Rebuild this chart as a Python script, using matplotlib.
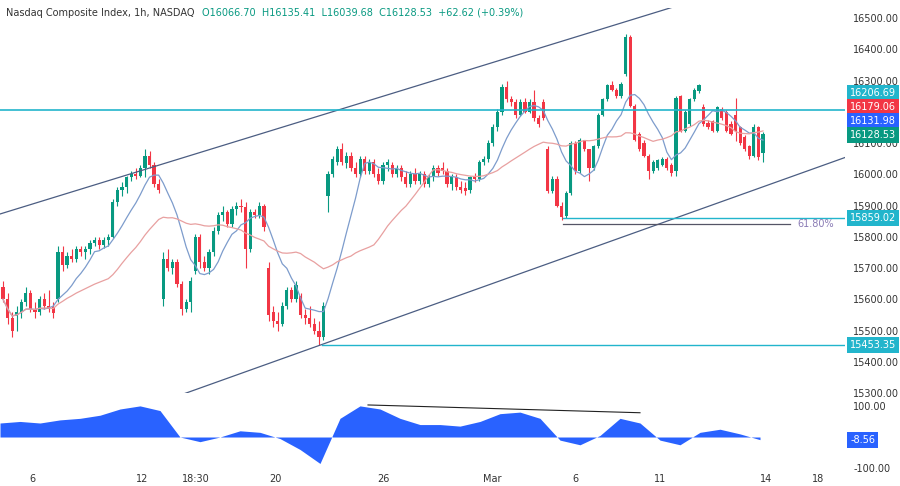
import matplotlib.pyplot as plt
import numpy as np
import pandas as pd

opens = [15640, 15600, 15540, 15545, 15560, 15590, 15620, 15570, 15560, 15600, 15580, 15575,
         15600, 15750, 15710, 15740, 15730, 15760, 15750, 15760, 15780, 15790, 15775, 15790,
         15800, 15910, 15950, 15960, 15990, 16000, 15995, 16020, 16060, 16030, 15970,
         15600, 15730, 15700, 15720, 15650, 15570, 15590, 15690, 15800, 15720, 15700, 15750,
         15820, 15870, 15880, 15840, 15890, 15900, 15895, 15760, 15880, 15870, 15900,
         15700, 15560, 15530, 15520, 15580, 15630, 15600, 15610, 15550, 15540, 15520, 15500, 15480,
         15930, 16000, 16040, 16080, 16035, 16060, 16020, 16000, 16050, 16010, 16040, 16000,
         15980, 16030, 16030, 16000, 16020, 15990, 15970, 16000, 15980, 16000, 15970, 15990,
         16020, 16020, 16010, 15970, 15990, 15960, 15955, 15950, 15990, 15985, 16040, 16050,
         16100, 16150, 16200, 16280, 16240, 16230, 16190, 16230, 16200, 16230, 16180,
         16230, 16080, 15945, 15985, 15900, 15865, 15940, 16100, 16010, 16110,
         16080, 16020, 16090, 16190, 16240, 16285, 16270, 16250, 16320, 16440,
         16220, 16130, 16100, 16060, 16010, 16020, 16030, 16050, 16030, 16010,
         16250, 16140, 16160, 16240, 16265, 16215, 16165, 16170, 16140, 16210,
         16200, 16160, 16190, 16150, 16120, 16090, 16060, 16150, 16066.70]
highs = [15660, 15620, 15560, 15580, 15600, 15640, 15630, 15590, 15610, 15620, 15630, 15590,
         15770, 15770, 15750, 15760, 15770, 15770, 15770, 15790, 15800, 15800, 15800, 15810,
         15920, 15960, 15975, 15995, 16010, 16020, 16030, 16080, 16075, 16040, 15985,
         15750, 15760, 15730, 15730, 15660, 15600, 15670, 15810, 15810, 15740, 15760, 15830,
         15880, 15900, 15885, 15900, 15910, 15920, 15910, 15890, 15890, 15910, 15905,
         15720, 15580, 15560, 15590, 15640, 15640, 15660, 15620, 15570, 15580, 15540, 15530, 15590,
         16010, 16060, 16090, 16100, 16070, 16070, 16040, 16060, 16060, 16050, 16050, 16020,
         16040, 16050, 16040, 16030, 16030, 16010, 16010, 16020, 16010, 16010, 16000, 16030,
         16030, 16040, 16020, 16000, 16000, 15980, 15975, 15995, 16005, 16045, 16060, 16110,
         16160, 16210, 16290, 16300, 16250, 16240, 16240, 16245, 16240, 16270, 16190,
         16240, 16090, 15995, 15995, 15910, 15945, 16105, 16105, 16115,
         16090, 16030, 16095, 16195, 16245, 16290, 16300, 16275, 16295, 16450,
         16445, 16225, 16135, 16110, 16065, 16045, 16050, 16055, 16055, 16035,
         16250, 16255, 16205, 16245, 16275, 16290, 16225, 16175, 16175, 16220,
         16215, 16205, 16170, 16245, 16155, 16125, 16095, 16160, 16155, 16135.41]
lows = [15590, 15520, 15480, 15500, 15540, 15580, 15560, 15540, 15550, 15570, 15560, 15540,
        15590, 15690, 15700, 15720, 15720, 15740, 15730, 15745, 15770, 15760, 15765, 15770,
        15795, 15900, 15930, 15940, 15980, 15985, 15990, 15990, 16020, 15960, 15940,
        15580, 15690, 15680, 15640, 15550, 15560, 15560, 15680, 15700, 15690, 15680, 15740,
        15810, 15850, 15830, 15830, 15870, 15880, 15700, 15750, 15860, 15860, 15820,
        15530, 15510, 15500, 15515, 15570, 15590, 15590, 15540, 15520, 15510, 15490, 15453, 15470,
        15880, 15990, 16030, 16030, 16020, 16010, 15990, 15990, 16000, 16000, 15990, 15970,
        15970, 16010, 15990, 15990, 15980, 15960, 15960, 15970, 15970, 15960, 15960, 15980,
        15995, 16000, 15960, 15950, 15950, 15940, 15935, 15940, 15975, 15980, 16030, 16040,
        16090, 16140, 16190, 16230, 16220, 16180, 16185, 16195, 16195, 16170, 16150,
        16175, 15940, 15940, 15895, 15855, 15860, 15935, 16000, 16005,
        16075, 15980, 16015, 16085, 16185, 16235, 16265, 16245, 16245, 16315,
        16215, 16105, 16075, 16055, 15985, 16005, 16015, 16025, 16015, 15995,
        15995, 16135, 16135, 16155, 16235, 16260, 16155, 16145, 16135, 16135,
        16175, 16135, 16125, 16105, 16095, 16075, 16050, 16055, 16045, 16039.68]
closes = [15600, 15540, 15500, 15560, 15590, 15620, 15570, 15560, 15600, 15580, 15570, 15555,
          15750, 15710, 15740, 15730, 15760, 15750, 15760, 15780, 15790, 15775, 15790, 15800,
          15910, 15950, 15960, 15990, 16000, 15995, 16020, 16060, 16030, 15970, 15950,
          15730, 15700, 15720, 15650, 15570, 15590, 15660, 15800, 15720, 15700, 15750, 15820,
          15870, 15880, 15840, 15890, 15900, 15895, 15760, 15880, 15870, 15900, 15830,
          15550, 15530, 15520, 15580, 15630, 15600, 15645, 15550, 15540, 15520, 15500, 15480, 15580,
          16000, 16050, 16080, 16040, 16060, 16020, 16000, 16050, 16010, 16040, 16000, 15980,
          16030, 16040, 16000, 16020, 15990, 15970, 16000, 15980, 16000, 15970, 15990, 16020,
          16005, 16010, 15970, 15990, 15960, 15950, 15945, 15990, 15985, 16040, 16050, 16100,
          16150, 16200, 16280, 16240, 16230, 16190, 16230, 16200, 16230, 16180, 16160,
          16180, 15945, 15985, 15900, 15862, 15940, 16100, 16010, 16110,
          16080, 16020, 16090, 16190, 16240, 16285, 16270, 16250, 16290, 16440,
          16220, 16110, 16080, 16060, 16010, 16040, 16045, 16050, 16020, 16005,
          16245, 16140, 16200, 16240, 16270, 16285, 16160, 16150, 16140, 16215,
          16180, 16140, 16130, 16140, 16100, 16080, 16060, 16150, 16055, 16128.53]

osc_px = np.arange(0, 761, 20)
osc_vals = [45, 50, 45, 55, 60, 70, 90, 100, 85, 0, -15, 0, 20, 15, -5, -40, -85, 60, 100, 90,
            60, 40, 40, 35, 50, 75, 80, 60, -10, -25, 5, 60, 45, -10, -25, 15, 25, 10, -8.56]

tick_px = [32, 142, 196, 275, 383, 492, 575, 660, 766, 818]
tick_labels = ['6', '12', '18:30', '20', '26', 'Mar', '6', '11', '14', '18']

price_ticks = [15300, 15400, 15500, 15600, 15700, 15800, 15900, 16000, 16100, 16300, 16400, 16500]
price_labels = [16206.69, 16179.06, 16131.98, 16128.53, 15859.02, 15453.35]
label_colors = ['#22b5cc', '#f23645', '#2962ff', '#089981', '#22b5cc', '#22b5cc']
label_py = [93, 107, 121, 135, 218, 345]  # stacked pixel rows of the price tags

n = len(closes)
step = 760 / (n - 1)


def px2i(px):
    return (px - 3) / step


def py2p(py):
    return 16500 - (py - 18) / 0.3125


green, red = '#089981', '#f23645'
fig = plt.figure(figsize=(9, 4.86), dpi=100)
ax = fig.add_axes([0, 1 - 393 / 486, 845 / 900, 385 / 486])
ax2 = fig.add_axes([0, 1 - 470 / 486, 845 / 900, 75 / 486])

idx = np.arange(n)
for i in idx:
    c = green if closes[i] >= opens[i] else red
    ax.vlines(i, lows[i], highs[i], color=c, lw=0.8)
    ax.bar(i, abs(closes[i] - opens[i]) or 2, bottom=min(opens[i], closes[i]),
           width=0.7, color=c, lw=0)

s = pd.Series(closes)
ax.plot(idx, s.rolling(9, min_periods=1).mean(), color='#7d9ccc', lw=0.9)
ax.plot(idx, s.rolling(24, min_periods=1).mean(), color='#e8a0a0', lw=0.9)

# channel and levels
ch = '#4b5d82'
ax.plot([px2i(0), px2i(683)], [py2p(214), py2p(4)], color=ch, lw=0.9)
ax.plot([px2i(175), px2i(852)], [py2p(397), py2p(155)], color=ch, lw=0.9)
ax.axhline(16206.69, color='#22b5cc', lw=1.2)
ax.plot([px2i(322), px2i(900)], [15453.35] * 2, color='#22b5cc', lw=1)
ax.plot([px2i(563), px2i(900)], [15859.02] * 2, color='#22b5cc', lw=1)
ax.plot([px2i(563), px2i(790)], [15840] * 2, color='#555566', lw=0.9)
ax.text(px2i(797), 15840, '61.80%', color='#8a7bb5', fontsize=7, va='center')

ax.set_xlim(px2i(0), px2i(845))
ax.set_ylim(py2p(393), py2p(8))
ax.set_yticks(price_ticks)
ax.set_yticklabels([f'{v:.2f}' for v in price_ticks])
ax.yaxis.tick_right()
ax.tick_params(axis='y', length=0, labelsize=7, colors='#333333', pad=6)
ax.set_xticks([])
for sp in ax.spines.values():
    sp.set_visible(False)
for v, col, py in zip(price_labels, label_colors, label_py):
    ax.text(1.006, py2p(py), f'{v:.2f}', transform=ax.get_yaxis_transform(), fontsize=7,
            color='white', va='center', ha='left',
            bbox=dict(boxstyle='square,pad=0.3', fc=col, ec='none'))

title = fig.text(0.007, 0.968, 'Nasdaq Composite Index, 1h, NASDAQ', fontsize=7, color='#333333')
fig.canvas.draw()
ax.annotate('O16066.70  H16135.41  L16039.68  C16128.53  +62.62 (+0.39%)',
            xy=(1, 0), xycoords=title, xytext=(5, 0), textcoords='offset points',
            fontsize=7, color=green, va='bottom')

# oscillator
ox = px2i(osc_px)
ax2.fill_between(ox, osc_vals, 0, color='#2962ff', lw=0)
ax2.plot([px2i(368), px2i(640)], [103, 78], color='#222222', lw=0.8)
ax2.set_xlim(px2i(0), px2i(845))
ax2.set_ylim(-106, 135)
ax2.set_yticks([-100, 100])
ax2.set_yticklabels(['-100.00', '100.00'])
ax2.yaxis.tick_right()
ax2.tick_params(axis='y', length=0, labelsize=7, colors='#333333', pad=6)
ax2.set_xticks(px2i(np.array(tick_px)))
ax2.set_xticklabels(tick_labels)
ax2.tick_params(axis='x', length=0, labelsize=7, colors='#333333', pad=3)
ax2.text(1.006, -8.56, '-8.56', transform=ax2.get_yaxis_transform(), fontsize=7,
         color='white', va='center', ha='left',
         bbox=dict(boxstyle='square,pad=0.3', fc='#2962ff', ec='none'))
for sp in ax2.spines.values():
    sp.set_visible(False)

fig.savefig('out.png', dpi=100)
